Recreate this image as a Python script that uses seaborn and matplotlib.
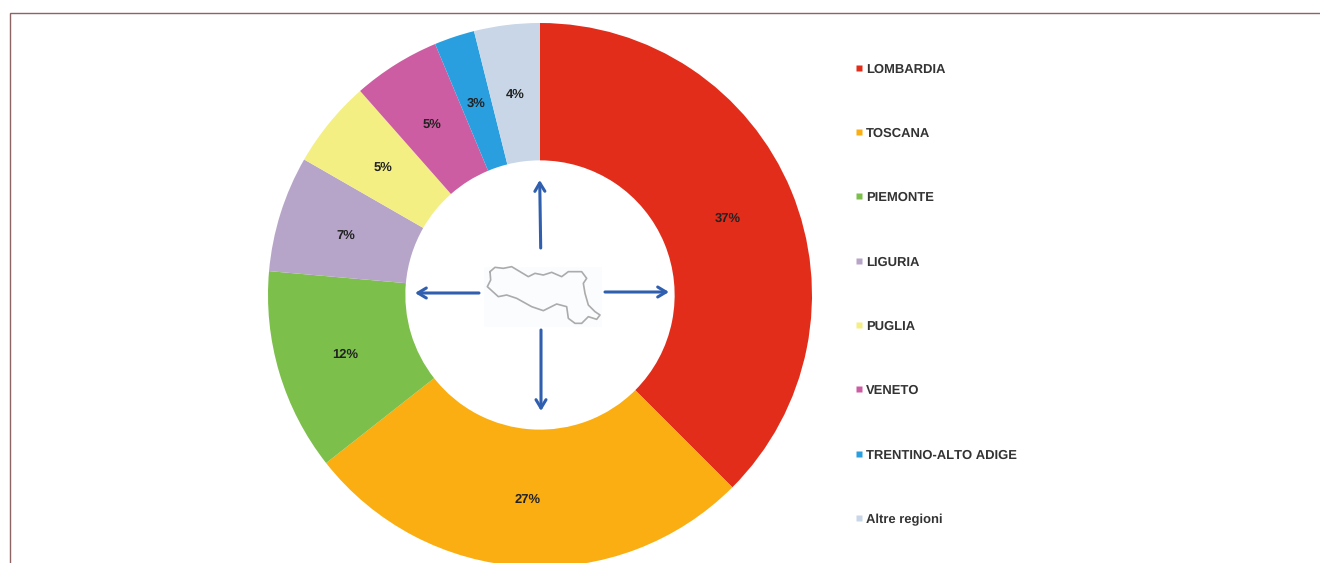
import matplotlib
matplotlib.use("Agg")
import matplotlib.pyplot as plt
from matplotlib.lines import Line2D
from matplotlib.patches import Rectangle
import seaborn as sns

regions = ["LOMBARDIA", "TOSCANA", "PIEMONTE", "LIGURIA", "PUGLIA", "VENETO",
           "TRENTINO-ALTO ADIGE", "Altre regioni"]
shares = [37.5, 26.9, 12.0, 6.9, 5.2, 5.2, 2.4, 3.9]
share_labels = ["37%", "27%", "12%", "7%", "5%", "5%", "3%", "4%"]
colors = ["#E32D1B", "#FBAE11", "#7CBF4B", "#B6A5C9", "#F4EF83", "#CD5DA2", "#2A9FE0", "#C8D6E7"]

outline_zoom = [(270,335),(285,322),(310,325),(335,320),(360,335),(385,350),(405,340),(430,345),
                (455,337),(485,350),(505,335),(545,335),(560,355),(550,370),(555,400),(565,435),
                (585,455),(600,465),(590,478),(565,470),(545,490),(525,490),(505,475),(500,440),
                (470,432),(430,452),(395,440),(350,415),(320,405),(295,410),(262,380),(272,360),(270,335)]
arrows = [((540.7,248),(539.7,180)), ((479,293),(415,293)), ((605,292),(669,292)), ((541,330),(541,411))]

W, H = 1320, 563
CX, CY, R = 540, 295, 272

sns.set_theme(style="white")
plt.rcParams["font.family"] = ["Liberation Sans", "DejaVu Sans"]
plt.rcParams["text.hinting"] = "no_hinting"
plt.rcParams["text.hinting_factor"] = 1
fig = plt.figure(figsize=(W/100, H/100), dpi=100, facecolor="white")

ax = fig.add_axes([(CX-R)/W, (H-CY-R)/H, 2*R/W, 2*R/H])
wedges, texts = ax.pie(shares, colors=colors, labels=share_labels, labeldistance=0.747,
                       startangle=90, counterclock=False, radius=1,
                       wedgeprops=dict(width=0.505, linewidth=0))
for t in texts:
    t.set(ha="center", va="center_baseline", fontsize=9.4, color="#222222", fontweight="bold")
ax.set_xlim(-1, 1); ax.set_ylim(-1, 1)
ax.axis("off")

ov = fig.add_axes([0, 0, 1, 1], facecolor="none")
ov.set_xlim(0, W); ov.set_ylim(H, 0); ov.axis("off")

ov.plot([9.5, 9.5, W], [H, 12.5, 12.5], color="#8C6464", lw=1.0, solid_joinstyle="miter")

ov.add_patch(Rectangle((484, 267), 118, 60, fc="#FBFCFE", ec="none"))
ox = [400 + p[0]/3 for p in outline_zoom]
oy = [160 + p[1]/3 for p in outline_zoom]
ov.plot(ox, oy, color="#ABABAB", lw=1.2)

for start, end in arrows:
    ov.annotate("", xy=end, xytext=start,
                arrowprops=dict(arrowstyle="->,head_length=0.5,head_width=0.3",
                                color="#2F5FAE", lw=2.2, shrinkA=0, shrinkB=0))

handles = [Line2D([], [], ls="none", marker="s", ms=4.6, mfc=c, mec="none") for c in colors]
ov.legend(handles, regions, loc="upper left", bbox_to_anchor=(851/W, 1-59/H),
          bbox_transform=fig.transFigure, frameon=False, ncol=1,
          prop=dict(size=9.7, weight="bold"), labelcolor="#333333",
          labelspacing=3.875, handlelength=0.6, handletextpad=0.2, borderpad=0.3, borderaxespad=0)

fig.savefig("out.png", dpi=100)
